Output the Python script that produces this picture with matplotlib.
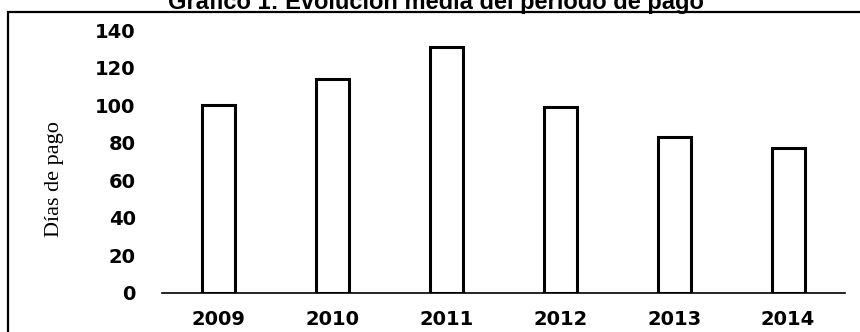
import matplotlib
matplotlib.use("Agg")
import matplotlib.pyplot as plt
from matplotlib.patches import Rectangle

years = ["2009", "2010", "2011", "2012", "2013", "2014"]
dias_pago = [100, 114, 131, 99, 83, 77]
yticks = [0, 20, 40, 60, 80, 100, 120, 140]

fig = plt.figure(figsize=(8.6, 3.32), dpi=100)
ax = fig.add_axes([162 / 860, 1 - 293 / 332, (845 - 162) / 860, (293 - 30) / 332])

x = range(len(years))
ax.bar(x, dias_pago, width=0.29, color="white", edgecolor="black", linewidth=2.2)

ax.set_xlim(-0.5, len(years) - 0.5)
ax.set_ylim(0, 140)
ax.set_yticks(yticks)
ax.set_xticks(list(x))
ax.set_xticklabels(years)

for side in ["left", "right", "top"]:
    ax.spines[side].set_visible(False)
ax.spines["bottom"].set_linewidth(1.2)
ax.tick_params(axis="both", length=0)
ax.tick_params(axis="y", pad=19)
ax.tick_params(axis="x", pad=12)
for lab in ax.get_xticklabels() + ax.get_yticklabels():
    lab.set_fontfamily("DejaVu Sans")
    lab.set_fontweight("bold")
    lab.set_fontsize(14)

fig.text(55 / 860, 1 - 179 / 332, "Días de pago", rotation=90,
         ha="center", va="center", family="Liberation Serif", fontsize=16)

# title sits partly above the image, as in the original
fig.text(436 / 860, 1 - 9 / 332, "Gráfico 1: Evolución media del período de pago",
         ha="center", va="baseline", family="Liberation Sans",
         fontweight="bold", fontsize=17)

# outer frame
fig.patches.append(Rectangle((8 / 860, -0.1), 1.0, 1 - 12 / 332 + 0.1,
                             transform=fig.transFigure, fill=False,
                             edgecolor="black", linewidth=1.6))

fig.savefig("out.png", dpi=100)
